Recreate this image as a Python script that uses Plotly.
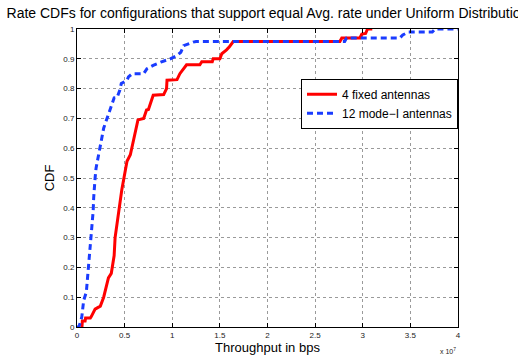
import plotly.graph_objects as go

# Throughput values in units of 1e7 bps
red_x = [0.052, 0.056, 0.085, 0.09, 0.14, 0.15, 0.19, 0.22, 0.245, 0.28, 0.30, 0.33, 0.36, 0.39, 0.40,
         0.44, 0.45, 0.47, 0.51, 0.525, 0.56, 0.59, 0.61, 0.64, 0.70, 0.73, 0.75, 0.77, 0.80, 0.91,
         0.94, 0.945, 1.05, 1.08, 1.12, 1.15, 1.29, 1.31, 1.42, 1.43, 1.50, 1.52, 1.57, 1.60, 1.64,
         2.76, 2.78, 2.97, 2.99, 3.03, 3.05, 3.10]
red_y = [0.0, 0.02, 0.02, 0.03, 0.03, 0.035, 0.06, 0.065, 0.07, 0.10, 0.13, 0.165, 0.18, 0.24, 0.30,
         0.39, 0.42, 0.46, 0.53, 0.556, 0.578, 0.62, 0.656, 0.695, 0.70, 0.728, 0.73, 0.75, 0.778, 0.78,
         0.80, 0.828, 0.83, 0.85, 0.867, 0.88, 0.88, 0.89, 0.89, 0.90, 0.90, 0.917, 0.93, 0.94, 0.958,
         0.958, 0.97, 0.97, 0.983, 0.985, 1.0, 1.0]

blue_x = [0.0, 0.02, 0.05, 0.06, 0.07, 0.098, 0.105, 0.115, 0.13, 0.14, 0.15, 0.16, 0.17, 0.175, 0.18,
          0.19, 0.20, 0.22, 0.24, 0.25, 0.28, 0.315, 0.34, 0.37, 0.39, 0.42, 0.45, 0.465, 0.525, 0.54,
          0.58, 0.70, 0.735, 0.80, 0.88, 0.98, 1.05, 1.09, 1.12, 1.22, 1.25, 2.81, 2.83, 3.39, 3.42,
          3.48, 3.73, 3.76, 4.0]
blue_y = [0.0, 0.0, 0.033, 0.056, 0.089, 0.117, 0.144, 0.189, 0.233, 0.27, 0.306, 0.344, 0.39, 0.433, 0.467,
          0.5, 0.533, 0.567, 0.6, 0.628, 0.667, 0.70, 0.722, 0.75, 0.769, 0.77, 0.795, 0.817, 0.828, 0.839,
          0.85, 0.85, 0.867, 0.878, 0.889, 0.90, 0.911, 0.922, 0.944, 0.956, 0.958, 0.958, 0.97, 0.97, 0.98,
          0.99, 0.99, 1.0, 1.0]

x_ticks = [0, 0.5, 1, 1.5, 2, 2.5, 3, 3.5, 4]
x_tick_text = ["0", "0.5", "1", "1.5", "2", "2.5", "3", "3.5", "4"]
y_ticks = [0, 0.1, 0.2, 0.3, 0.4, 0.5, 0.6, 0.7, 0.8, 0.9, 1]
y_tick_text = ["0", "0.1", "0.2", "0.3", "0.4", "0.5", "0.6", "0.7", "0.8", "0.9", "1"]

FONT = "Liberation Sans, Arial, sans-serif"

fig = go.Figure()
fig.add_trace(go.Scatter(x=red_x, y=red_y, mode="lines", name="4 fixed antennas",
                         line=dict(color="#ff0000", width=3)))
fig.add_trace(go.Scatter(x=blue_x, y=blue_y, mode="lines", name="12 mode\u2212I antennas",
                         line=dict(color="#1a3cff", width=3, dash="6px,4px")))

axis_common = dict(showline=True, linecolor="black", linewidth=1, mirror="allticks",
                   ticks="inside", ticklen=4, tickcolor="black",
                   showgrid=True, gridcolor="#9a9a9a", griddash="dot", gridwidth=1,
                   zeroline=False, tickfont=dict(family=FONT, size=8, color="#222"))

fig.update_xaxes(range=[0, 4], tickvals=x_ticks, ticktext=x_tick_text,
                 title=dict(text="Throughput in bps", font=dict(family=FONT, size=13, color="black"), standoff=0),
                 **axis_common)
fig.update_yaxes(range=[0, 1], tickvals=y_ticks, ticktext=y_tick_text,
                 title=dict(text="CDF", font=dict(family=FONT, size=13, color="black"), standoff=5),
                 **axis_common)

fig.add_annotation(text="x 10<sup>7</sup>", xref="paper", yref="paper", x=1.0, y=-0.06,
                   xanchor="right", yanchor="top", showarrow=False,
                   font=dict(family=FONT, size=7, color="#222"))

fig.update_layout(
    width=518, height=356,
    margin=dict(l=77, r=60, t=29, b=29, autoexpand=False),
    paper_bgcolor="white", plot_bgcolor="white",
    title=dict(text="Rate CDFs for configurations that support equal Avg. rate under Uniform Distribution",
               x=0.5, xref="paper", xanchor="center", y=0.962, yanchor="middle",
               font=dict(family=FONT, size=14, color="black")),
    legend=dict(x=1.0, y=0.833, xanchor="right", yanchor="top", bgcolor="white",
                bordercolor="black", borderwidth=1, font=dict(family=FONT, size=12, color="black"),
                itemwidth=30, tracegroupgap=0),
    showlegend=True,
)

fig.write_html("out.html")
